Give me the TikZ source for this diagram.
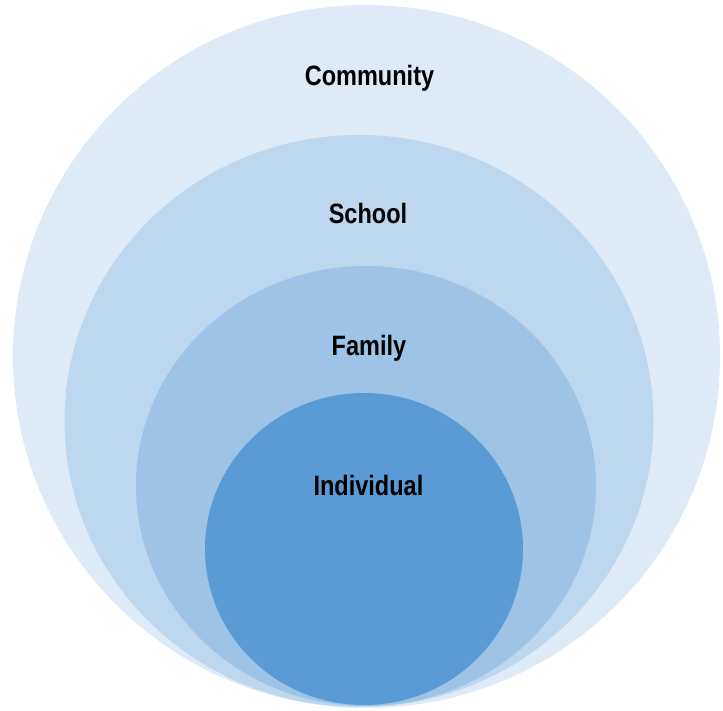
\documentclass[tikz,border=0pt]{standalone}
\usepackage{fontspec}
\setmainfont{Liberation Sans}[FakeStretch=0.84]
\definecolor{c1}{HTML}{DEEBF7}
\definecolor{c2}{HTML}{BDD7EE}
\definecolor{c3}{HTML}{9DC3E6}
\definecolor{c4}{HTML}{5B9BD5}
\tikzset{lbl/.style={anchor=base, inner sep=0pt, font=\fontsize{28}{32}\selectfont\bfseries, text=black}}
\begin{document}
\begin{tikzpicture}[x=1pt,y=-1pt]
\useasboundingbox (0,0) rectangle (723,710);
\fill[c1] (366.5,356.5) ellipse [x radius=353.5, y radius=351.5];
\fill[c2] (359,421) ellipse [x radius=294.5, y radius=286];
\fill[c3] (366,486) ellipse [x radius=230, y radius=220];
\fill[c4] (364,549) ellipse [x radius=159, y radius=156];
\node[lbl] (community) at (369.5,85) {Community};
\node[lbl] (school) at (368,223.3) {School};
\node[lbl] (family) at (369,355.7) {Family};
\node[lbl] (individual) at (368.4,495) {Individual};
\end{tikzpicture}
\end{document}
